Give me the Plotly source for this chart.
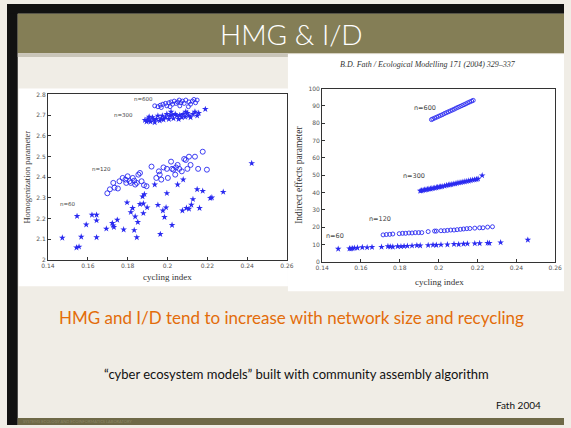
import plotly.graph_objects as go

W, H = 571, 428

# ---------------- data: left panel (Homogenization) ----------------
hmg_n60_x = [0.1472,0.1546,0.1543,0.1556,0.1567,0.1592,0.1621,0.1644,0.1644,0.1644,0.1693,0.1723,0.1728,0.1731,
             0.1748,0.1780,0.1797,0.1816,0.1825,0.1838,0.1833,0.1846,0.1851,0.1862,0.1879,0.1879,0.1898,0.1875,
             0.1884,0.1936,0.1952,0.1964,0.1977,0.1985,0.1993,0.1997,0.2023,0.2051,0.2075,0.2079,0.2095,0.2108,
             0.2120,0.2128,0.2149,0.2161,0.2177,0.2215,0.2223,0.2280,0.2423]
hmg_n60_y = [2.106,2.211,2.059,2.063,2.111,2.170,2.217,2.217,2.190,2.108,2.150,2.177,2.166,2.158,
             2.193,2.146,2.277,2.230,2.250,2.209,2.143,2.108,2.182,2.269,2.272,2.225,2.253,2.306,
             2.317,2.364,2.265,2.124,2.238,2.206,2.253,2.322,2.168,2.364,2.238,2.388,2.250,2.246,
             2.266,2.293,2.341,2.250,2.333,2.298,2.301,2.328,2.467]

hmg_n120_x = [0.1698,0.1711,0.1728,0.1734,0.1751,0.1759,0.1775,0.1789,0.1793,0.1800,0.1810,0.1816,0.1826,0.1833,
              0.1838,0.1846,0.1854,0.1862,0.1870,0.1882,0.1895,0.1920,0.1944,0.1957,0.1961,0.1969,0.1980,0.1997,
              0.2002,0.2018,0.2023,0.2030,0.2039,0.2043,0.2051,0.2059,0.2072,0.2084,0.2092,0.2100,0.2108,0.2116,
              0.2138,0.2154,0.2177,0.2198]
hmg_n120_y = [2.322,2.341,2.372,2.349,2.345,2.380,2.396,2.388,2.372,2.404,2.380,2.372,2.396,2.383,
              2.364,2.372,2.412,2.420,2.380,2.361,2.356,2.451,2.396,2.428,2.412,2.388,2.447,2.440,
              2.396,2.475,2.440,2.436,2.412,2.447,2.459,2.440,2.428,2.488,2.483,2.440,2.499,2.459,
              2.499,2.440,2.523,2.436]

hmg_n300_x = [0.1887,0.1895,0.1903,0.1908,0.1915,0.1925,0.1931,0.1936,0.1944,0.1952,0.1961,0.1969,0.1974,0.1980,
              0.1990,0.1997,0.2007,0.2013,0.2023,0.2030,0.2039,0.2046,0.2056,0.2062,0.2072,0.2079,0.2089,0.2100,
              0.2108,0.2116,0.2128,0.2138,0.2149,0.2157,0.2190,0.1908,0.2018,0.2092]
hmg_n300_y = [2.676,2.669,2.684,2.673,2.669,2.689,2.678,2.665,2.681,2.697,2.673,2.684,2.697,2.678,
              2.689,2.705,2.681,2.697,2.700,2.684,2.705,2.697,2.681,2.700,2.689,2.705,2.692,2.710,
              2.697,2.689,2.705,2.716,2.697,2.710,2.729,2.692,2.716,2.716]

hmg_n600_x = [0.1936,0.1952,0.1964,0.1977,0.1990,0.1997,0.2007,0.2018,0.2026,0.2034,0.2043,0.2051,0.2059,0.2067,
              0.2075,0.2084,0.2092,0.2108,0.2116,0.2125,0.2133,0.2141,0.2149,0.1969,0.2013,0.2062,0.2105]
hmg_n600_y = [2.745,2.741,2.748,2.753,2.757,2.745,2.760,2.764,2.753,2.768,2.757,2.764,2.773,2.760,
              2.768,2.757,2.773,2.764,2.753,2.768,2.776,2.760,2.773,2.737,2.741,2.745,2.741]

# ---------------- data: right panel (Indirect effects) ----------------
ind_n60_x = [0.1483,0.1541,0.1549,0.1557,0.1566,0.1582,0.1607,0.1632,0.1657,0.1706,0.1739,0.1751,0.1764,0.1789,
             0.1806,0.1822,0.1839,0.1863,0.1888,0.1905,0.1946,0.1971,0.1988,0.2012,0.2045,0.2079,0.2103,0.2128,
             0.2148,0.2186,0.2211,0.2252,0.2261,0.2319,0.2459]
ind_n60_y = [7.4,7.6,7.5,7.7,7.9,8.0,8.3,8.2,8.4,8.5,8.9,8.7,8.6,8.9,
             8.8,9.0,9.1,9.2,9.4,9.3,9.5,9.7,9.6,9.8,9.9,10.2,10.0,10.3,
             10.4,10.5,10.6,10.8,10.7,11.1,12.6]

ind_n120_x = [0.1714,0.1731,0.1748,0.1764,0.1797,0.1814,0.1830,0.1847,0.1863,0.1880,0.1897,0.1913,0.1946,0.1979,
              0.1988,0.2012,0.2029,0.2045,0.2062,0.2079,0.2095,0.2112,0.2128,0.2145,0.2161,0.2186,0.2211,0.2228,
              0.2252,0.2277]
ind_n120_y = [15.5,15.7,15.8,16.0,16.2,16.4,16.4,16.6,16.6,16.8,16.8,16.8,17.4,17.7,
              17.7,17.9,17.9,18.1,18.3,18.3,18.5,18.7,18.9,19.1,19.2,19.4,19.6,19.6,
              20.0,20.2]

ind_n300_x = [0.1905,0.1912,0.1920,0.1928,0.1935,0.1942,0.1950,0.1958,0.1965,0.1972,0.1980,0.1988,0.1995,0.2003,
              0.2010,0.2018,0.2030,0.2040,0.2050,0.2058,0.2065,0.2075,0.2085,0.2095,0.2105,0.2115,0.2125,0.2135,
              0.2145,0.2155,0.2165,0.2175,0.2185,0.2195,0.2203,0.2224]
ind_n300_y = [40.9,41.1,41.3,41.5,41.6,41.8,42.0,42.1,42.3,42.5,42.6,42.8,43.0,43.2,
              43.3,43.5,43.8,44.1,44.3,44.5,44.6,44.9,45.1,45.4,45.6,45.8,46.1,46.3,
              46.5,46.7,47.0,47.2,47.4,47.6,47.9,49.8]

ind_n600_x = [0.1963,0.1970,0.1980,0.1990,0.2000,0.2010,0.2020,0.2030,0.2040,0.2050,0.2060,0.2070,0.2080,0.2090,
              0.2100,0.2110,0.2120,0.2130,0.2140,0.2150,0.2160,0.2170,0.2178]
ind_n600_y = [82.1,82.5,83.0,83.5,84.0,84.5,85.0,85.6,86.1,86.6,87.1,87.6,88.1,88.7,
              89.2,89.7,90.2,90.7,91.2,91.8,92.3,92.8,93.2]

hmg_yticks = [2, 2.1, 2.2, 2.3, 2.4, 2.5, 2.6, 2.7, 2.8]
hmg_yticktext = ["2", "2.1", "2.2", "2.3", "2.4", "2.5", "2.6", "2.7", "2.8"]
ind_yticks = [0, 10, 20, 30, 40, 50, 60, 70, 80, 90, 100]
cyc_xticks = [0.14, 0.16, 0.18, 0.2, 0.22, 0.24, 0.26]
cyc_xticktext = ["0.14", "0.16", "0.18", "0.2", "0.22", "0.24", "0.26"]

hmg_labels = ["n=600", "n=300", "n=120", "n=60"]
hmg_label_x = [0.188, 0.178, 0.167, 0.150]
hmg_label_y = [2.776, 2.700, 2.440, 2.270]
ind_labels = ["n=600", "n=300", "n=120", "n=60"]
ind_label_x = [0.1931, 0.1872, 0.1698, 0.1466]
ind_label_y = [89.0, 49.8, 24.9, 14.9]

BLUE = "#2a2af0"

def px(x):
    return x / W

def py(y):
    return 1 - y / H

fig = go.Figure()

star = dict(symbol="star", size=5, color=BLUE, line=dict(width=0))
circ = dict(symbol="circle-open", size=5, color=BLUE, line=dict(width=0.9, color=BLUE))
circ_small = dict(symbol="circle-open", size=4, color=BLUE, line=dict(width=0.9, color=BLUE))

fig.add_trace(go.Scatter(x=hmg_n60_x, y=hmg_n60_y, mode="markers", marker=star, xaxis="x", yaxis="y"))
fig.add_trace(go.Scatter(x=hmg_n120_x, y=hmg_n120_y, mode="markers", marker=circ, xaxis="x", yaxis="y"))
fig.add_trace(go.Scatter(x=hmg_n300_x, y=hmg_n300_y, mode="markers", marker=star, xaxis="x", yaxis="y"))
fig.add_trace(go.Scatter(x=hmg_n600_x, y=hmg_n600_y, mode="markers", marker=circ_small, xaxis="x", yaxis="y"))

fig.add_trace(go.Scatter(x=ind_n60_x, y=ind_n60_y, mode="markers", marker=star, xaxis="x2", yaxis="y2"))
fig.add_trace(go.Scatter(x=ind_n120_x, y=ind_n120_y, mode="markers", marker=circ_small, xaxis="x2", yaxis="y2"))
fig.add_trace(go.Scatter(x=ind_n300_x, y=ind_n300_y, mode="markers", marker=star, xaxis="x2", yaxis="y2"))
fig.add_trace(go.Scatter(x=ind_n600_x, y=ind_n600_y, mode="markers", marker=circ_small, xaxis="x2", yaxis="y2"))

axcommon = dict(showgrid=False, zeroline=False, showline=True, linecolor="#333", linewidth=1,
                mirror=True, ticks="inside", ticklen=3, tickcolor="#333",
                tickfont=dict(size=6, color="#555", family="DejaVu Sans"))

shapes = [
    dict(type="rect", xref="paper", yref="paper", x0=0, x1=1, y0=0, y1=1,
         fillcolor="#F0EDE6", line=dict(width=0), layer="below"),
    dict(type="rect", xref="paper", yref="paper", x0=0, x1=px(11), y0=0, y1=1,
         fillcolor="#111111", line=dict(width=0), layer="below"),
    dict(type="rect", xref="paper", yref="paper", x0=0, x1=1, y0=py(10), y1=1,
         fillcolor="#111111", line=dict(width=0), layer="below"),
    dict(type="rect", xref="paper", yref="paper", x0=px(11), x1=1, y0=py(50), y1=py(10),
         fillcolor="#847E56", line=dict(width=0), layer="below"),
    dict(type="rect", xref="paper", yref="paper", x0=px(11), x1=px(288), y0=py(54), y1=py(50),
         fillcolor="#C9C5B9", line=dict(width=0), layer="below"),
    dict(type="rect", xref="paper", yref="paper", x0=px(11), x1=1, y0=0, y1=py(421),
         fillcolor="#6E6947", line=dict(width=0), layer="below"),
    dict(type="rect", xref="paper", yref="paper", x0=px(12), x1=px(288), y0=py(287), y1=py(86),
         fillcolor="#FFFFFF", line=dict(width=0), layer="below"),
    dict(type="rect", xref="paper", yref="paper", x0=px(288), x1=1, y0=py(292), y1=py(51),
         fillcolor="#FFFFFF", line=dict(width=0), layer="below"),
]

annotations = [
    dict(text="HMG &amp; I/D", xref="paper", yref="paper", x=px(292), y=py(31), showarrow=False,
         font=dict(size=28, color="white", family="Lato", weight=300), xanchor="center", yanchor="middle"),
    dict(text="<i>B.D. Fath / Ecological Modelling 171 (2004) 329–337</i>", xref="paper", yref="paper",
         x=px(432), y=py(61), showarrow=False, xanchor="center", yanchor="middle",
         font=dict(size=8, color="#333", family="Liberation Serif")),
    dict(text="Homogenization parameter", xref="paper", yref="paper", x=px(21), y=py(176), showarrow=False,
         textangle=-90, xanchor="center", yanchor="middle",
         font=dict(size=8.5, color="#333", family="Liberation Serif")),
    dict(text="cycling index", xref="paper", yref="paper", x=px(165), y=py(278), showarrow=False,
         xanchor="center", yanchor="middle", font=dict(size=9, color="#333", family="Liberation Serif")),
    dict(text="Indirect effects parameter", xref="paper", yref="paper", x=px(300), y=py(174), showarrow=False,
         textangle=-90, xanchor="center", yanchor="middle",
         font=dict(size=9.5, color="#333", family="Liberation Serif")),
    dict(text="cycling index", xref="paper", yref="paper", x=px(443), y=py(283), showarrow=False,
         xanchor="center", yanchor="middle", font=dict(size=9, color="#333", family="Liberation Serif")),
    dict(text="HMG and I/D tend to increase with network size and recycling", xref="paper", yref="paper",
         x=px(292), y=py(319), showarrow=False, xanchor="center", yanchor="middle",
         font=dict(size=17, color="#E36C0A", family="Lato")),
    dict(text="“cyber ecosystem models” built with community assembly algorithm", xref="paper", yref="paper",
         x=px(297), y=py(376), showarrow=False, xanchor="center", yanchor="middle",
         font=dict(size=13, color="#111", family="Lato")),
    dict(text="Fath 2004", xref="paper", yref="paper", x=px(549), y=py(408), showarrow=False,
         xanchor="right", yanchor="middle", font=dict(size=10, color="#111", family="Lato")),
    dict(text="SYSTEMS ECOLOGY AND ECOINFORMATICS LABORATORY", xref="paper", yref="paper",
         x=px(14), y=py(424), showarrow=False, xanchor="left", yanchor="middle",
         font=dict(size=4, color="#8C8766", family="Lato")),
]

for t, xv, yv in zip(hmg_labels, hmg_label_x, hmg_label_y):
    annotations.append(dict(text=t, x=xv, y=yv, xref="x", yref="y", showarrow=False,
                            font=dict(size=5.5, color="#444", family="DejaVu Sans")))
for t, xv, yv in zip(ind_labels, ind_label_x, ind_label_y):
    annotations.append(dict(text=t, x=xv, y=yv, xref="x2", yref="y2", showarrow=False,
                            font=dict(size=6.5, color="#444", family="DejaVu Sans")))

fig.update_layout(
    width=W, height=H, margin=dict(l=0, r=0, t=0, b=0),
    paper_bgcolor="#F0EDE6", plot_bgcolor="rgba(0,0,0,0)",
    showlegend=False,
    xaxis=dict(domain=[px(42), px(287)], range=[0.14, 0.26], tickvals=cyc_xticks, ticktext=cyc_xticktext,
               anchor="y", **axcommon),
    yaxis=dict(domain=[py(260), py(92)], range=[2, 2.8], tickvals=hmg_yticks, ticktext=hmg_yticktext,
               anchor="x", **axcommon),
    xaxis2=dict(domain=[px(323), px(562)], range=[0.14, 0.26], tickvals=cyc_xticks, ticktext=cyc_xticktext,
                anchor="y2", **axcommon),
    yaxis2=dict(domain=[py(262), py(86)], range=[0, 100], tickvals=ind_yticks,
                anchor="x2", **axcommon),
    shapes=shapes,
    annotations=annotations,
)

fig.write_html("out.html", config={"displayModeBar": False},
               post_script="document.body.style.margin='0';document.body.style.overflow='hidden';")
